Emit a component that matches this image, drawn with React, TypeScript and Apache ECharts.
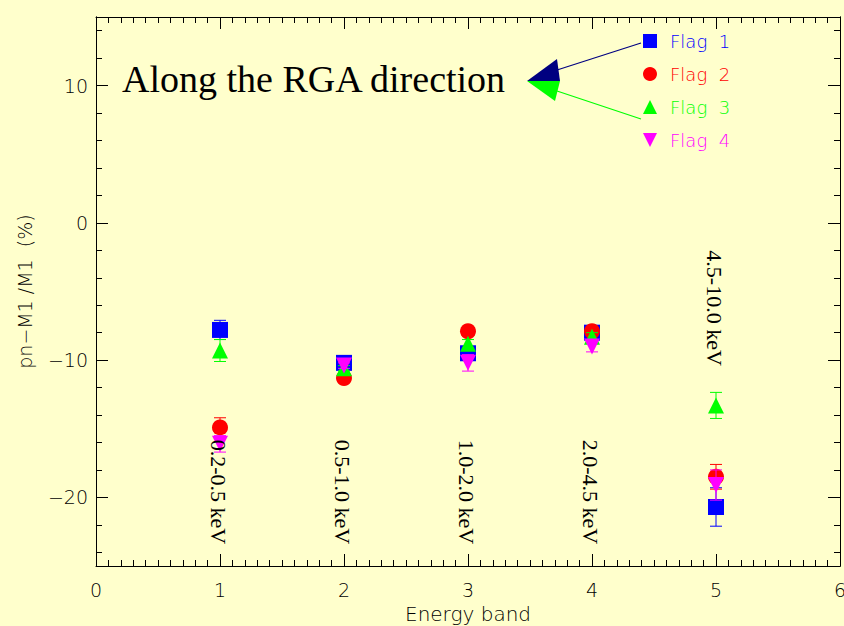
import React, { useEffect, useRef } from "react";
import * as echarts from "echarts";

const bands = [1, 2, 3, 4, 5];
const bandLabels = ["0.2-0.5 keV", "0.5-1.0 keV", "1.0-2.0 keV", "2.0-4.5 keV", "4.5-10.0 keV"];
const bandLabelTop = [-15.8, -15.8, -15.8, -15.8, -2.0];

const flagNames = ["Flag 1", "Flag 2", "Flag 3", "Flag 4"];
const flagColors = ["#0000FF", "#FF0000", "#00FF00", "#FF00FF"];
const flagSymbols = ["rect", "circle", "triangle", "path://M0,0L10,0L5,10Z"];

const flag1 = [-7.8, -10.2, -9.5, -8.0, -20.7];
const flag2 = [-14.9, -11.3, -7.9, -7.9, -18.5];
const flag3 = [-9.3, -10.6, -8.8, -8.3, -13.3];
const flag4 = [-16.1, -10.4, -10.2, -9.0, -19.1];
const err1 = [0.7, 0.2, 0.3, 0.3, 1.4];
const err2 = [0.7, 0.2, 0.2, 0.3, 0.9];
const err3 = [0.8, 0.2, 0.3, 0.3, 0.95];
const err4 = [0.6, 0.2, 0.6, 0.4, 1.1];

const flagValues = [flag1, flag2, flag3, flag4];
const flagErrors = [err1, err2, err3, err4];

const yMajor = [-20, -10, 0, 10];
const yMinor = [-24, -22, -18, -16, -14, -12, -8, -6, -4, -2, 2, 4, 6, 8, 12, 14];

const FONT = "DejaVu Sans";
const SERIF = '"Liberation Serif", "Times New Roman", serif';

export default function App() {
  const ref = useRef<HTMLDivElement>(null);
  useEffect(() => {
    const chart = echarts.init(ref.current!, null, { renderer: "svg" });

    const tickStyle = { color: "#000", width: 1 };
    const xAxisBase = {
      type: "value",
      min: 0,
      max: 6,
      interval: 1,
      axisLine: { show: true, onZero: false, lineStyle: tickStyle },
      axisTick: { show: true, inside: true, length: 12, lineStyle: tickStyle },
      minorTick: { show: true, splitNumber: 10, length: 6, lineStyle: tickStyle },
      splitLine: { show: false },
      minorSplitLine: { show: false },
    };
    const yAxisBase = {
      type: "value",
      min: -25,
      max: 15,
      axisLine: { show: true, onZero: false, lineStyle: tickStyle },
      splitLine: { show: false },
    };

    const errorSeries = flagNames.map((name, i) => ({
      type: "custom",
      name,
      z: 2 + i * 2,
      data: bands.map((b, j) => [b, flagValues[i][j] - flagErrors[i][j], flagValues[i][j] + flagErrors[i][j]]),
      encode: { x: 0, y: [1, 2] },
      renderItem: (params: any, api: any) => {
        const x = api.value(0);
        const lo = api.coord([x, api.value(1)]);
        const hi = api.coord([x, api.value(2)]);
        const w = 6;
        const style = { stroke: flagColors[i], lineWidth: 1 };
        return {
          type: "group",
          children: [
            { type: "line", shape: { x1: lo[0], y1: lo[1], x2: hi[0], y2: hi[1] }, style },
            { type: "line", shape: { x1: lo[0] - w, y1: lo[1], x2: lo[0] + w, y2: lo[1] }, style },
            { type: "line", shape: { x1: hi[0] - w, y1: hi[1], x2: hi[0] + w, y2: hi[1] }, style },
          ],
        };
      },
    }));

    const scatterSeries = flagNames.map((name, i) => ({
      type: "scatter",
      name,
      z: 3 + i * 2,
      symbol: flagSymbols[i],
      symbolSize: 16,
      itemStyle: { color: flagColors[i], opacity: 1 },
      data: bands.map((b, j) => [b, flagValues[i][j]]),
    }));

    const labelSeries = {
      type: "custom",
      name: "bandLabels",
      z: 20,
      data: bands.map((b, j) => [b, bandLabelTop[j], j]),
      encode: { x: 0, y: 1 },
      renderItem: (params: any, api: any) => {
        const p = api.coord([api.value(0), api.value(1)]);
        return {
          type: "text",
          x: p[0] - 2,
          y: p[1],
          rotation: -Math.PI / 2,
          style: {
            text: bandLabels[api.value(2)],
            font: `22px ${SERIF}`,
            fill: "#000",
            textAlign: "left",
            textVerticalAlign: "middle",
          },
        };
      },
    };

    const hershey = { fontFamily: FONT, fontWeight: 300 as any };

    chart.setOption({
      animation: false,
      backgroundColor: "#FFFFCC",
      grid: { left: 96, right: 4, top: 17, bottom: 60, containLabel: false, outerBoundsMode: "none" },
      xAxis: [
        {
          ...xAxisBase,
          position: "bottom",
          name: "Energy band",
          nameLocation: "middle",
          nameGap: 37,
          nameTextStyle: { ...hershey, fontSize: 20, color: "#000" },
          axisLabel: { show: true, ...hershey, fontSize: 19, color: "#000", margin: 14 },
        },
        { ...xAxisBase, position: "top", axisLabel: { show: false } },
      ],
      yAxis: [
        {
          ...yAxisBase,
          position: "left",
          name: "pn\u2212M1 /M1  (%)",
          nameLocation: "middle",
          nameGap: 62,
          nameTextStyle: { ...hershey, fontSize: 19, color: "#000" },
          axisTick: { show: true, inside: true, length: 12, lineStyle: tickStyle, customValues: yMajor },
          axisLabel: {
            show: true,
            customValues: yMajor,
            ...hershey,
            fontSize: 19,
            color: "#000",
            margin: 8,
            formatter: (v: number) => String(v).replace("-", "\u2212"),
          },
        },
        {
          ...yAxisBase,
          position: "left",
          axisTick: { show: true, inside: true, length: 6, lineStyle: tickStyle, customValues: yMinor },
          axisLabel: { show: false },
        },
        {
          ...yAxisBase,
          position: "right",
          axisTick: { show: true, inside: true, length: 12, lineStyle: tickStyle, customValues: yMajor },
          axisLabel: { show: false },
        },
        {
          ...yAxisBase,
          position: "right",
          axisTick: { show: true, inside: true, length: 6, lineStyle: tickStyle, customValues: yMinor },
          axisLabel: { show: false },
        },
      ],
      legend: {
        orient: "vertical",
        left: 638,
        top: 27,
        itemWidth: 14,
        itemHeight: 14,
        itemGap: 15,
        textStyle: { ...hershey, fontSize: 18, padding: [0, 0, 0, 8] },
        formatter: (n: string) => n.replace(" ", "  "),
        selectedMode: false,
        data: flagNames.map((n, i) => ({
          name: n,
          icon: flagSymbols[i],
          itemStyle: { color: flagColors[i] },
          textStyle: { color: flagColors[i] },
        })),
      },
      graphic: [
        {
          type: "text",
          x: 122,
          y: 79,
          style: {
            text: "Along the RGA direction",
            font: `38px ${SERIF}`,
            fill: "#000",
            textAlign: "left",
            textVerticalAlign: "middle",
          },
        },
        {
          type: "line",
          shape: { x1: 557, y1: 70, x2: 641, y2: 43 },
          style: { stroke: "#000080", lineWidth: 1.2 },
        },
        {
          type: "line",
          shape: { x1: 557, y1: 91, x2: 641, y2: 119 },
          style: { stroke: "#00FF00", lineWidth: 1.2 },
        },
        {
          type: "polygon",
          shape: { points: [[527, 81], [557, 59], [560, 81]] },
          style: { fill: "#000080" },
        },
        {
          type: "polygon",
          shape: { points: [[527, 81], [560, 81], [555, 101]] },
          style: { fill: "#00FF00" },
        },
      ],
      series: [
        ...flagNames.flatMap((_, i) => [errorSeries[i], scatterSeries[i]]),
        labelSeries,
      ],
    });

    return () => chart.dispose();
  }, []);

  return (
    <div
      ref={ref}
      style={{ position: "fixed", left: 0, top: 0, width: 844, height: 626 }}
    />
  );
}
